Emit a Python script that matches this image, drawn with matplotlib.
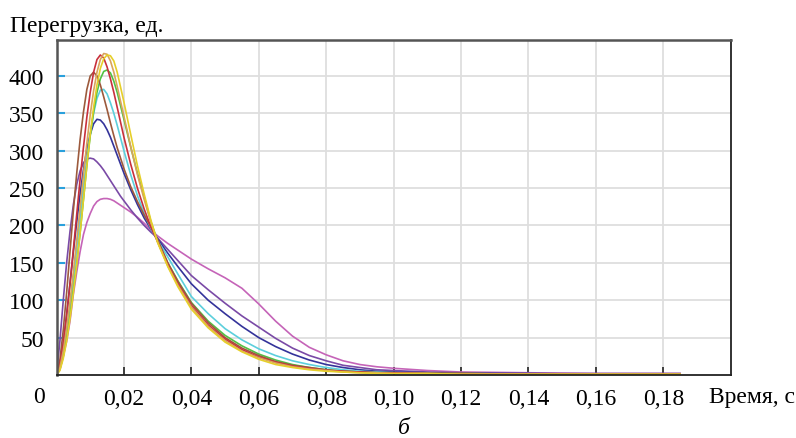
import matplotlib
matplotlib.use("Agg")
import matplotlib.pyplot as plt

# time grid, s
t = [0, 0.001, 0.002, 0.003, 0.004, 0.005, 0.006, 0.007, 0.008, 0.009,
     0.010, 0.011, 0.012, 0.013, 0.014, 0.015, 0.016, 0.017, 0.018, 0.019,
     0.020, 0.022, 0.024, 0.026, 0.028, 0.030, 0.033, 0.036, 0.040, 0.045,
     0.050, 0.055, 0.060, 0.065, 0.070, 0.075, 0.080, 0.085, 0.090, 0.095,
     0.100, 0.110, 0.120, 0.140, 0.160, 0.185]

# overload values
brown = [0, 20, 60, 110, 165, 220, 270, 315, 352, 382,
         400, 405, 400, 388, 372, 355, 337, 320, 304, 290,
         276, 252, 232, 214, 198, 181, 150, 125, 96, 70,
         50, 36, 26, 18, 13, 10, 7, 5, 4, 3,
         3, 2, 2, 1, 1, 1]
red = [0, 14, 42, 80, 122, 168, 215, 262, 305, 345,
       378, 405, 422, 428, 424, 412, 396, 378, 358, 338,
       318, 282, 250, 222, 198, 178, 148, 122, 93, 67,
       48, 34, 24, 17, 12, 9, 6, 5, 4, 3,
       3, 2, 2, 1, 1, 1]
orange = [0, 10, 32, 62, 98, 138, 180, 224, 268, 310,
          348, 380, 405, 422, 430, 429, 420, 405, 386, 366,
          346, 306, 268, 235, 204, 178, 146, 120, 91, 65,
          46, 32, 23, 16, 11, 8, 6, 4, 3, 3,
          2, 2, 1, 1, 1, 1]
yellow = [0, 6, 22, 45, 75, 110, 148, 190, 235, 280,
          322, 358, 388, 410, 423, 428, 427, 420, 405, 385,
          365, 322, 280, 242, 207, 177, 145, 118, 88, 63,
          44, 31, 21, 14, 10, 7, 5, 4, 3, 2,
          2, 2, 1, 1, 1, 1]
green = [0, 8, 25, 50, 80, 115, 150, 190, 235, 280,
         320, 352, 378, 396, 406, 408, 404, 393, 378, 360,
         342, 305, 270, 238, 205, 179, 150, 126, 97, 72,
         53, 39, 28, 20, 14, 10, 7, 5, 4, 3,
         3, 2, 2, 1, 1, 1]
cyan = [0, 10, 30, 58, 92, 130, 170, 212, 252, 290,
        322, 350, 370, 381, 382, 376, 364, 350, 334, 317,
        300, 268, 240, 216, 196, 180, 158, 135, 105, 82,
        62, 47, 35, 26, 19, 14, 10, 7, 5, 4,
        3, 2, 2, 1, 1, 1]
navy = [0, 14, 42, 80, 122, 165, 205, 242, 275, 302,
        322, 336, 342, 341, 336, 328, 318, 306, 294, 282,
        270, 248, 228, 210, 195, 182, 163, 145, 122, 100,
        82, 65, 50, 38, 28, 20, 14, 10, 7, 5,
        4, 3, 2, 2, 1, 1]
purple = [0, 45, 100, 150, 192, 228, 255, 273, 284, 289,
          290, 289, 285, 280, 274, 267, 260, 253, 246, 239,
          233, 221, 210, 200, 191, 183, 168, 153, 133, 114,
          96, 79, 64, 49, 36, 26, 19, 13, 10, 7,
          6, 4, 3, 2, 2, 2]
magenta = [0, 7, 25, 45, 72, 108, 138, 165, 188, 204,
           216, 226, 232, 235, 236, 236, 235, 233, 230, 227,
           224, 218, 211, 203, 194, 186, 176, 167, 155, 142,
           130, 116, 95, 72, 52, 37, 27, 19, 14, 11,
           9, 6, 4, 3, 2, 2]

series = [
    (magenta, "#c564b8"),
    (purple, "#7a4aa6"),
    (navy, "#34339a"),
    (cyan, "#5ccfdc"),
    (green, "#52c244"),
    (brown, "#9c5a3c"),
    (red, "#c8303c"),
    (orange, "#d9a45c"),
    (yellow, "#e6cf2a"),
]

x_ticks = [0.02, 0.04, 0.06, 0.08, 0.10, 0.12, 0.14, 0.16, 0.18]
x_labels = ["0,02", "0,04", "0,06", "0,08", "0,10", "0,12", "0,14", "0,16", "0,18"]
y_ticks = [50, 100, 150, 200, 250, 300, 350, 400]

plt.rcParams["font.family"] = ["Liberation Serif", "DejaVu Serif"]

fig = plt.figure(figsize=(7.96, 4.39), dpi=100)
ax = fig.add_axes([0.071, 0.1435, 0.847, 0.763])

for vals, col in series:
    ax.plot(t, vals, color=col, lw=1.2)

ax.set_xlim(0, 0.2)
ax.set_ylim(0, 448)

ax.set_xticks(x_ticks)
ax.set_xticklabels(x_labels)
ax.set_yticks(y_ticks)
ax.grid(True, color="#dedede", lw=1.3)
ax.set_axisbelow(True)

ax.tick_params(axis="x", direction="in", length=6, width=1.2, color="#222222",
               labelsize=17, pad=9)
ax.tick_params(axis="y", direction="in", length=6, width=1.5, color="#2aa0dc",
               labelsize=17, pad=9)

for side in ["left", "top"]:
    ax.spines[side].set_color("#555555")
    ax.spines[side].set_linewidth(1.8)
for side in ["right", "bottom"]:
    ax.spines[side].set_color("#222222")
    ax.spines[side].set_linewidth(1.3)

# labels around the plot
fig.text(0.012, 0.94, "Перегрузка, ед.", fontsize=17, ha="left", va="center")
fig.text(0.049, 0.095, "0", fontsize=17, ha="center", va="center")
fig.text(0.999, 0.095, "Время, с", fontsize=17, ha="right", va="center")
fig.text(0.507, 0.025, "б", fontsize=17, style="italic", ha="center", va="center")

fig.savefig("out.png", dpi=100)
